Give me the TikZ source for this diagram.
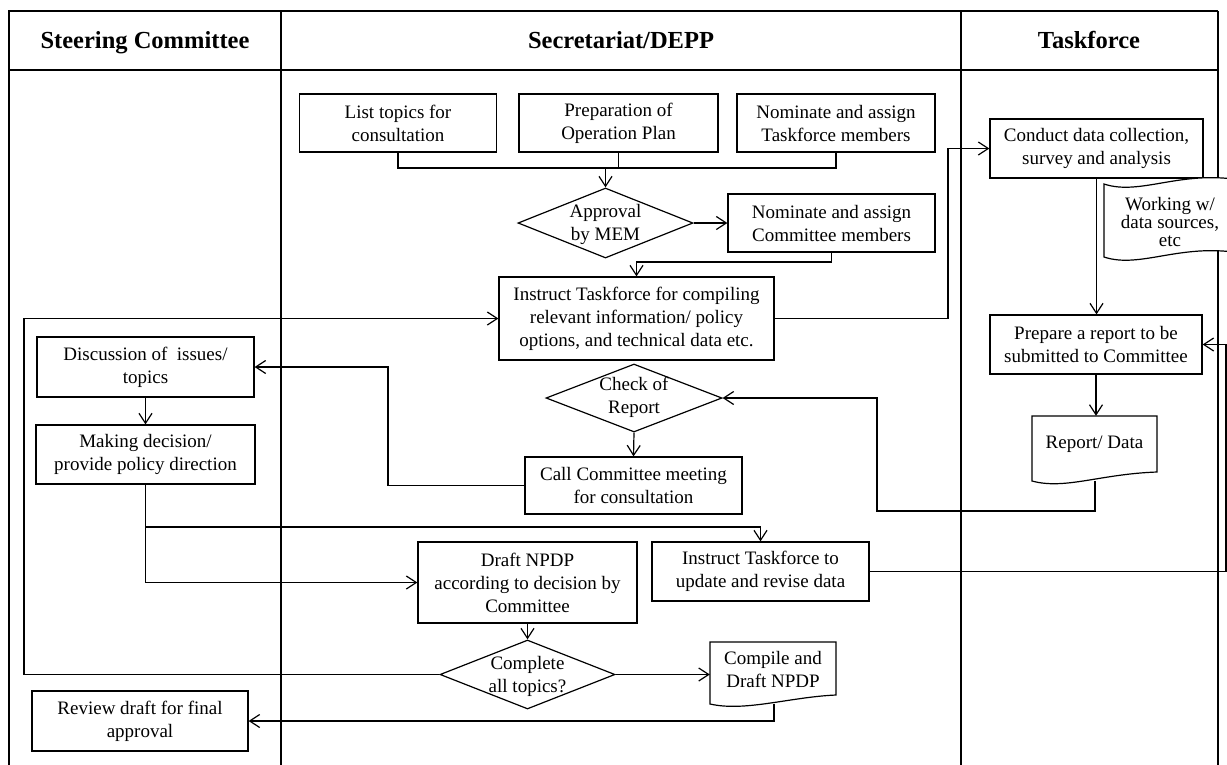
\documentclass[tikz,border=0pt]{standalone}
\usepackage{fontspec}
\setmainfont{Liberation Serif}
\usetikzlibrary{arrows.meta,shapes.geometric}

\begin{document}
\begin{tikzpicture}[x=1pt,y=-1pt,
  every node/.style={font=\fontsize{19}{23}\selectfont, align=center, inner sep=0pt},
  box/.style={draw, line width=1.2pt, rectangle},
  dia/.style={draw, line width=1.2pt, diamond},
  txt/.style={},
  flow/.style={line width=1.2pt},
  arr/.style={flow, -{Straight Barb[length=10pt,width=13pt]}},
  frame/.style={line width=1.6pt},
  head/.style={font=\fontsize{24.5}{28}\selectfont\bfseries, anchor=base},
]
\useasboundingbox (0,0) rectangle (1227,764);

% swimlane frame
\draw[frame] (9,780) -- (9,11) -- (1218,11);
\draw[frame] (1218,11) -- (1218,780);
\draw[line width=2pt] (9,70) -- (1218,70);
\draw[frame] (281,11) -- (281,780);
\draw[frame] (961,11) -- (961,780);

% lane titles
\node[head] (hsc) at (145,48) {Steering Committee};
\node[head] (hsd) at (621,48) {Secretariat/DEPP};
\node[head] (htf) at (1089,48) {Taskforce};

% Secretariat/DEPP lane
\node[box, minimum width=197pt, minimum height=58pt] (lst)  at (398,123)   {List topics for\\consultation};
\node[box, minimum width=199pt, minimum height=58pt] (plan) at (618.5,123) {Preparation of\\Operation Plan};
\node[box, minimum width=198pt, minimum height=58pt] (nomt) at (836,123)   {Nominate and assign\\Taskforce members};

\node[dia, minimum width=175pt, minimum height=70pt] (app) at (605.5,223) {};
\node[txt] (app-t) at (605.5,224.5) {Approval\\by MEM};
\node[box, minimum width=207pt, minimum height=58pt] (nomc) at (831.5,223) {Nominate and assign\\Committee members};

\node[box, minimum width=275pt, minimum height=83pt] (ins) at (636.5,318.5)
  {Instruct Taskforce for compiling\\relevant information/ policy\\options, and technical data etc.};

\node[dia, minimum width=176pt, minimum height=68pt] (chk) at (634,398) {};
\node[txt] (chk-t) at (634,397.5) {Check of\\Report};
\node[box, minimum width=217pt, minimum height=57pt] (call) at (633.5,485.5) {Call Committee meeting\\for consultation};

\node[box, minimum width=219pt, minimum height=81pt] (drf) at (527.5,582.5)
  {Draft NPDP\\according to decision by\\Committee};
\node[box, minimum width=217pt, minimum height=59pt] (upd) at (760.5,571.5) {Instruct Taskforce to\\update and revise data};

\node[dia, minimum width=175pt, minimum height=69pt] (cmp) at (527.5,674.5) {};
\node[txt] (cmp-t) at (527.5,676) {Complete\\all topics?};

% document: compile and draft
\draw[flow] (710,704) -- (710,642) -- (836,642) -- (836,695)
  .. controls (790,697) and (745,712) .. (710,704) -- cycle;
\node[minimum width=126pt, minimum height=54pt] (cd) at (773,669) {Compile and\\Draft NPDP};
\coordinate (cd-out) at (774,704);

% Steering Committee lane
\node[box, minimum width=217pt, minimum height=60pt] (dis) at (145.5,367)   {Discussion of\ \ issues/\\topics};
\node[box, minimum width=219pt, minimum height=59pt] (mk)  at (145.5,454.5) {Making decision/\\provide policy direction};
\node[box, minimum width=216pt, minimum height=60pt] (rev) at (140,721)     {Review draft for final\\approval};

% Taskforce lane
\node[box, minimum width=213pt, minimum height=59pt] (cdc)  at (1096.5,148.5) {Conduct data collection,\\survey and analysis};
\node[box, minimum width=212pt, minimum height=59pt] (prep) at (1096,344.5)   {Prepare a report to be\\submitted to Committee};

% punched tape: working with data sources
\draw[flow, fill=white] (1104,257) -- (1104,184)
  .. controls (1140,196) and (1180,170) .. (1240,180) -- (1240,253)
  .. controls (1180,243) and (1140,269) .. (1104,257) -- cycle;
\node[font=\fontsize{19}{18}\selectfont] (wrk) at (1170,222) {Working w/\\data sources,\\etc};

% document: report / data
\draw[flow] (1032,481) -- (1032,416) -- (1157,416) -- (1157,472)
  .. controls (1100,474) and (1065,490) .. (1032,481) -- cycle;
\node[minimum width=125pt, minimum height=56pt] (rep) at (1094.5,444) {Report/ Data};
\coordinate (rep-out) at (1095,481);

% connectors
\coordinate (mrg) at (605.5,168);
\draw[flow] (lst.south) |- (mrg) -| (nomt.south);
\draw[flow] (plan.south) -- (plan.south |- mrg);
\draw[arr] (mrg) -- (app.north);
\draw[arr] (app.east) -- (nomc.west);

\coordinate (k3) at (636.5,262);
\draw[arr] (nomc.south) |- (k3) -- (ins.north);

\coordinate (k4) at (948,148.5);
\draw[arr] (ins.east) -| (k4) -- (cdc.west);
\draw[arr] (cdc.south) -- (cdc.south |- prep.north);
\draw[arr] (prep.south) -- (prep.south |- rep.north);

\coordinate (k7) at (877,511);
\draw[arr] (rep-out) |- (k7) |- (chk.east);
\draw[arr] (chk.south) -- (call.north);

\coordinate (k9) at (388,367);
\draw[arr] (call.west) -| (k9) -- (dis.east);
\draw[arr] (dis.south) -- (mk.north);
\draw[arr] (mk.south) |- (drf.west);

\coordinate (k11) at (145.5,527);
\draw[arr] (k11) -| (upd.north);

\coordinate (k12) at (1226,344.5);
\draw[arr] (upd.east) -| (k12) -- (prep.east);

\draw[arr] (drf.south) -- (cmp.north);
\coordinate (k14) at (24,318.5);
\draw[arr] (cmp.west) -| (k14) -- (ins.west);
\draw[arr] (cmp.east) -- (cmp.east -| cd.west);
\draw[arr] (cd-out) |- (rev.east);
\end{tikzpicture}
\end{document}
